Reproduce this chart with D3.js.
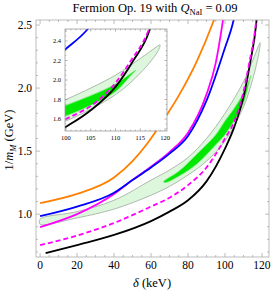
<!DOCTYPE html>
<html>
<head>
<meta charset="utf-8">
<script src="https://cdn.jsdelivr.net/npm/d3@7"></script>
<style>
body { margin: 0; background: #fff; }
text { font-family: "Liberation Serif", "DejaVu Serif", serif; fill: #000; }
</style>
</head>
<body>
<div id="chart"></div>
<script>
// curves: [delta (keV), 1/m_M (GeV)]
const orangeLine = [[0,1.087],[20,1.16],[40,1.29],[50,1.42],[58,1.56],[66,1.73],[75,1.94],[85,2.22],[93,2.5],[95,2.58]];
const blueLine = [[0,0.984],[20,1.06],[40,1.17],[50,1.27],[60,1.37],[70,1.48],[80,1.62],[90,1.90],[100,2.32],[104,2.5],[105,2.56]];
const magentaLine = [[0,0.897],[20,1.0],[40,1.16],[50,1.272],[60,1.377],[70,1.492],[80,1.645],[90,1.95],[95,2.2],[98.5,2.5],[99.5,2.6]];
const dashedLine = [[0,0.754],[20,0.83],[40,0.93],[60,1.06],[70,1.13],[80,1.23],[90,1.37],[100,1.60],[106,1.77],[110,1.97],[113,2.19],[116.6,2.5],[117.2,2.58]];
const blackLine = [[3,0.69],[20,0.755],[40,0.835],[60,0.945],[70,1.02],[80,1.11],[90,1.26],[100,1.52],[105,1.69],[110,1.93],[113.6,2.2],[116.8,2.5],[117.3,2.58]];

// 90% region (light) and 68% region (dark): upper edge then lower edge
const lightUpper = [[0,0.96],[20,1.02],[40,1.11],[60,1.27],[70,1.35],[80,1.45],[90,1.60],[100,1.80],[110,2.05],[115,2.22],[118,2.33],[119,2.36]];
const lightLower = [[118.5,2.29],[115,2.07],[110,1.85],[100,1.58],[90,1.42],[80,1.31],[70,1.22],[60,1.15],[40,1.04],[20,0.97],[0,0.92]];
const darkUpper = [[66.7,1.256],[75,1.34],[85,1.48],[95,1.63],[100,1.74],[105,1.84],[110,1.96],[114.1,2.10]];
const darkLower = [[113,2.04],[110,1.88],[105,1.74],[100,1.63],[95,1.55],[85,1.40],[75,1.30],[68,1.25]];

const xTicks = [0,20,40,60,80,100,120];
const yTicks = [1.0,1.5,2.0,2.5];
const xiTicks = [100,105,110,115,120];
const yiTicks = [1.6,1.8,2.0,2.2,2.4];

const width = 275, height = 293;

const svg = d3.select("#chart").append("svg")
  .attr("width", width)
  .attr("height", height);

const x = d3.scaleLinear().domain([-2.2, 123.8]).range([36, 269]);
const y = d3.scaleLinear().domain([0.66, 2.54]).range([257, 20]);

const xi = d3.scaleLinear().domain([99.8, 120.4]).range([65, 167]);
const yi = d3.scaleLinear().domain([1.477, 2.523]).range([131, 29]);

const defs = svg.append("defs");
defs.append("clipPath").attr("id", "clipMain").append("rect")
  .attr("x", 36).attr("y", 20).attr("width", 233).attr("height", 237);
defs.append("clipPath").attr("id", "clipInset").append("rect")
  .attr("x", 65).attr("y", 29).attr("width", 102).attr("height", 102);

function drawCurves(g, sx, sy) {
  const line = d3.line().x(d => sx(d[0])).y(d => sy(d[1])).curve(d3.curveMonotoneX);
  const blob = d3.line().x(d => sx(d[0])).y(d => sy(d[1])).curve(d3.curveCatmullRomClosed.alpha(0.5));

  g.append("path").attr("d", blob(lightUpper.concat(lightLower)))
    .attr("fill", "#dcf7dc").attr("stroke", "#a0a8a0").attr("stroke-width", 0.8);
  g.append("path").attr("d", blob(darkUpper.concat(darkLower)))
    .attr("fill", "#00e800").attr("stroke", "#8be88b").attr("stroke-width", 0.8);

  g.append("path").attr("d", line(orangeLine))
    .attr("fill", "none").attr("stroke", "#ff8000").attr("stroke-width", 1.8);
  g.append("path").attr("d", line(magentaLine))
    .attr("fill", "none").attr("stroke", "#ff00ff").attr("stroke-width", 1.8);
  g.append("path").attr("d", line(blueLine))
    .attr("fill", "none").attr("stroke", "#0000ff").attr("stroke-width", 1.8);
  g.append("path").attr("d", line(blackLine))
    .attr("fill", "none").attr("stroke", "#000").attr("stroke-width", 1.8);
  g.append("path").attr("d", line(dashedLine))
    .attr("fill", "none").attr("stroke", "#ff00ff").attr("stroke-width", 1.8)
    .attr("stroke-dasharray", "5,3");
}

// main plot
const main = svg.append("g").attr("clip-path", "url(#clipMain)");
drawCurves(main, x, y);

// frame + ticks
function frameTicks(sx, sy, majX, minX, majY, minY, big, small, col) {
  const g = svg.append("g").attr("stroke", col).attr("stroke-width", 0.7);
  const [x0, x1] = sx.range(), [y0, y1] = sy.range();
  g.append("rect").attr("x", x0).attr("y", y1).attr("width", x1 - x0).attr("height", y0 - y1)
    .attr("fill", "none");
  majX.forEach(v => {
    g.append("line").attr("x1", sx(v)).attr("x2", sx(v)).attr("y1", y0).attr("y2", y0 - big);
    g.append("line").attr("x1", sx(v)).attr("x2", sx(v)).attr("y1", y1).attr("y2", y1 + big);
  });
  minX.forEach(v => {
    g.append("line").attr("x1", sx(v)).attr("x2", sx(v)).attr("y1", y0).attr("y2", y0 - small);
    g.append("line").attr("x1", sx(v)).attr("x2", sx(v)).attr("y1", y1).attr("y2", y1 + small);
  });
  majY.forEach(v => {
    g.append("line").attr("y1", sy(v)).attr("y2", sy(v)).attr("x1", x0).attr("x2", x0 + big);
    g.append("line").attr("y1", sy(v)).attr("y2", sy(v)).attr("x1", x1).attr("x2", x1 - big);
  });
  minY.forEach(v => {
    g.append("line").attr("y1", sy(v)).attr("y2", sy(v)).attr("x1", x0).attr("x2", x0 + small);
    g.append("line").attr("y1", sy(v)).attr("y2", sy(v)).attr("x1", x1).attr("x2", x1 - small);
  });
}

frameTicks(x, y, xTicks, d3.range(0, 124, 5).filter(v => v % 20 !== 0),
  yTicks, d3.range(0.7, 2.54, 0.1).filter(v => Math.abs(v * 2 - Math.round(v * 2)) > 0.01),
  4, 2, "#a0a0a0");

svg.append("g").selectAll("text").data(xTicks).join("text")
  .attr("x", d => x(d)).attr("y", 269)
  .attr("text-anchor", "middle").attr("font-size", 11.5)
  .text(d => d);
svg.append("g").selectAll("text").data(yTicks).join("text")
  .attr("x", 32).attr("y", d => y(d) + 4)
  .attr("text-anchor", "end").attr("font-size", 11.5)
  .text(d => d.toFixed(1));

// inset
svg.append("rect").attr("x", 65).attr("y", 29).attr("width", 102).attr("height", 102)
  .attr("fill", "#fff");
const inset = svg.append("g").attr("clip-path", "url(#clipInset)");
drawCurves(inset, xi, yi);
frameTicks(xi, yi, xiTicks, d3.range(101, 120, 1).filter(v => v % 5 !== 0),
  yiTicks, d3.range(1.5, 2.52, 0.05).filter(v => Math.abs(v * 5 - Math.round(v * 5)) > 0.01),
  2.5, 1.3, "#909090");

svg.append("g").selectAll("text").data(xiTicks).join("text")
  .attr("x", d => xi(d)).attr("y", 140)
  .attr("text-anchor", "middle").attr("font-size", 6.5)
  .text(d => d);
svg.append("g").selectAll("text").data(yiTicks).join("text")
  .attr("x", 61).attr("y", d => yi(d) + 2.2)
  .attr("text-anchor", "end").attr("font-size", 6.5)
  .text(d => d.toFixed(1));

// title
const title = svg.append("text").attr("x", 155).attr("y", 12)
  .attr("text-anchor", "middle").attr("font-size", 12.5);
title.append("tspan").text("Fermion Op. 19 with ");
title.append("tspan").attr("font-style", "italic").text("Q");
title.append("tspan").attr("font-size", 8.5).attr("dy", 3).text("NaI");
title.append("tspan").attr("dy", -3).text(" = 0.09");

// axis labels
const xl = svg.append("text").attr("x", 152).attr("y", 287)
  .attr("text-anchor", "middle").attr("font-size", 12.5);
xl.append("tspan").attr("font-style", "italic").text("δ");
xl.append("tspan").text(" (keV)");

const yl = svg.append("text")
  .attr("transform", "translate(13,140) rotate(-90)")
  .attr("text-anchor", "middle").attr("font-size", 12.5);
yl.append("tspan").text("1/");
yl.append("tspan").attr("font-style", "italic").text("m");
yl.append("tspan").attr("font-size", 8.5).attr("font-style", "italic").attr("dy", 3).text("M");
yl.append("tspan").attr("dy", -3).text(" (GeV)");
</script>
</body>
</html>
